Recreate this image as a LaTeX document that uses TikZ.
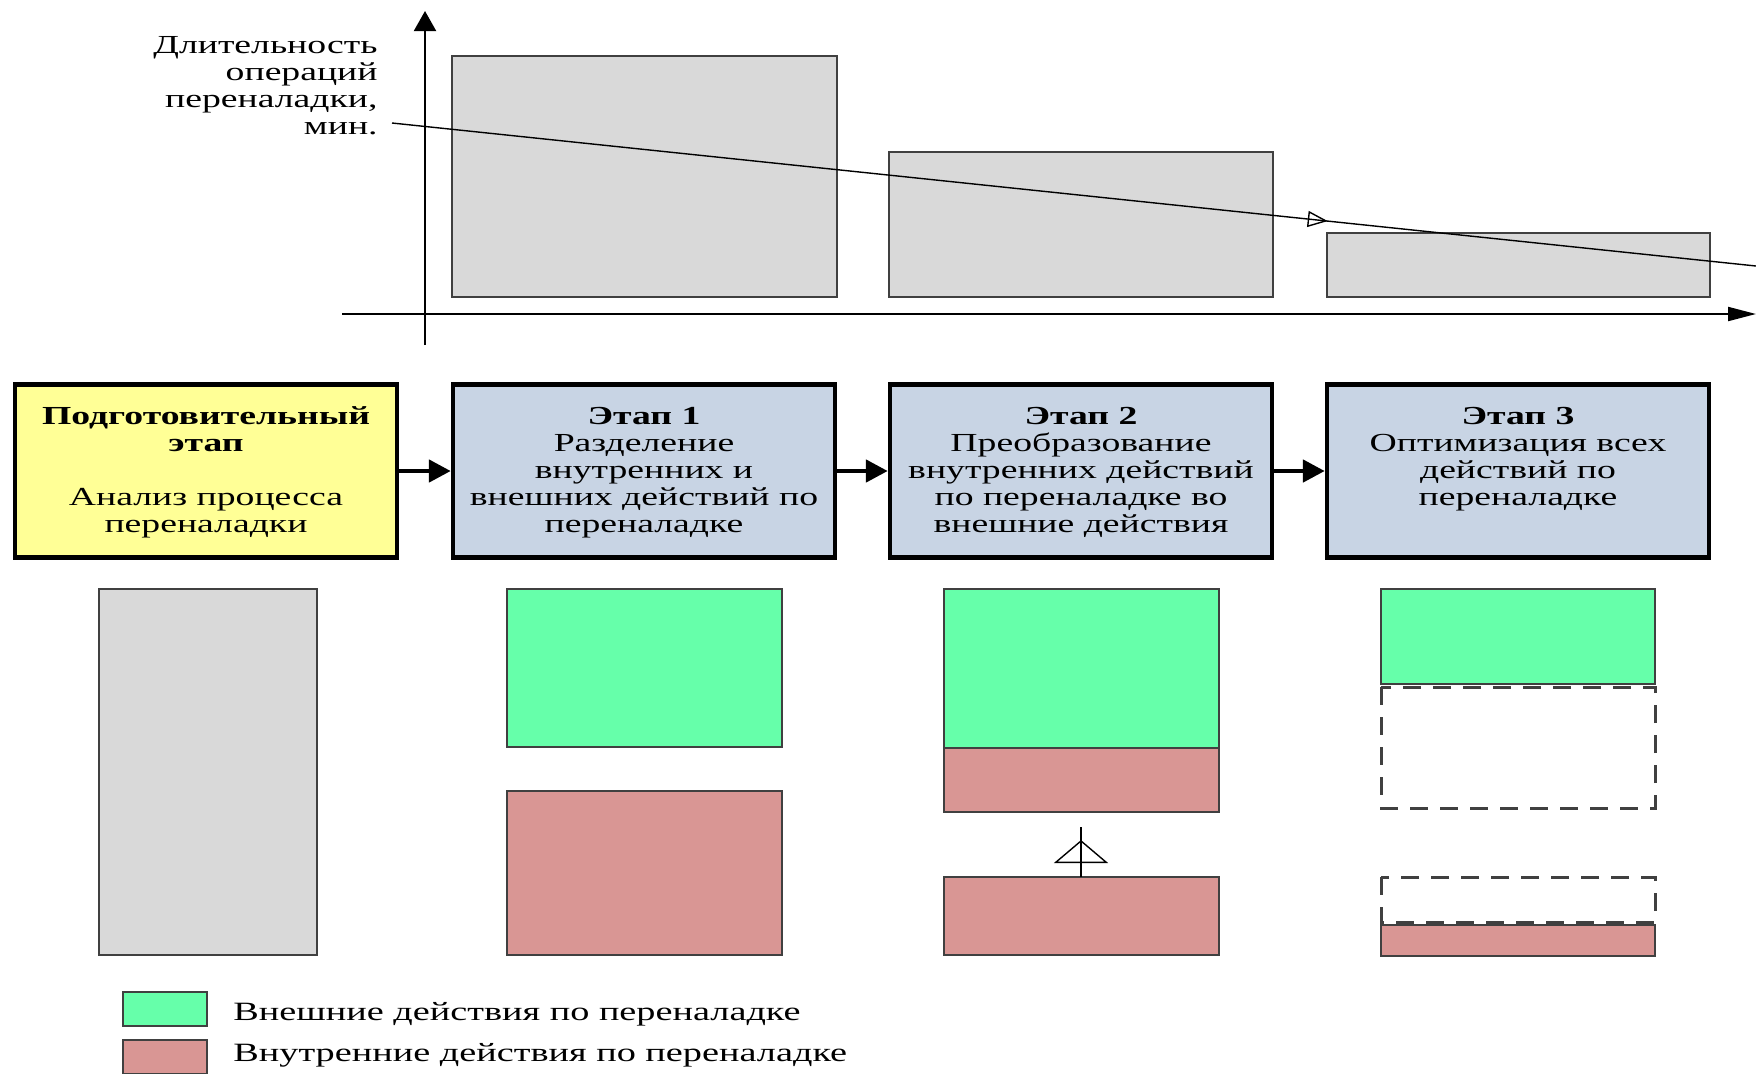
\documentclass[tikz,border=0pt]{standalone}
\usepackage{fontspec}
\setmainfont[FakeStretch=1.45]{Liberation Serif}
\usetikzlibrary{arrows.meta,positioning,decorations.markings}
\definecolor{bargray}{RGB}{217,217,217}
\definecolor{edgegray}{RGB}{64,64,64}
\definecolor{stageblue}{RGB}{200,212,228}
\definecolor{prepyellow}{RGB}{255,255,150}
\definecolor{extgreen}{RGB}{102,255,170}
\definecolor{intpink}{RGB}{217,150,148}
\tikzset{->-/.style={decoration={
  markings,
  mark=at position #1 with {\arrow{>}}},postaction={decorate}}}
\tikzset{axis/.style={line width=1pt,draw=black}}
\tikzset{bar/.style={draw=edgegray,fill=bargray,line width=0.9pt}}
\tikzset{block/.style={draw=edgegray,line width=0.7pt}}
\tikzset{gone/.style={draw=edgegray,line width=1.5pt,dash pattern=on 9pt off 6pt}}
\tikzset{stage/.style={rectangle,draw=black,line width=2.2pt,minimum width=191pt,minimum height=86.5pt,inner sep=0pt,font=\stagefont}}
\tikzset{flow/.style={line width=2.4pt,-{Triangle[length=11pt,width=11pt]}}}
\tikzset{swatch/.style={rectangle,draw=edgegray,line width=1pt,minimum width=42pt,minimum height=17pt,inner sep=0pt}}
\tikzset{legend/.style={inner sep=0pt,font=\legendfont}}
\newcommand{\stagefont}{\fontsize{13}{13.5}\selectfont}
\newcommand{\legendfont}{\fontsize{13.2}{14}\selectfont}
\newcommand{\stagetxt}[1]{\parbox[c][64pt][t]{190pt}{\centering #1}}

\begin{document}
\begin{tikzpicture}[x=0.5pt,y=-0.5pt]
\useasboundingbox (0,0) rectangle (1756,1073);
% chart
\coordinate (ybot) at (425,345);
\coordinate (ytop) at (425,11);
\coordinate (xleft) at (342,314);
\coordinate (xright) at (1756,314);
\draw[bar] (452,56) rectangle (837,297);
\draw[bar] (889,152) rectangle (1273,297);
\draw[bar] (1327,233) rectangle (1710,297);
\draw[axis,-{Triangle[length=10pt,width=11pt]}] (ybot)--(ytop);
\draw[axis,-{Triangle[length=14pt,width=7pt]}] (xleft)--(xright);
\node (ylabel) at (378,36) [anchor=north east,align=right,inner sep=0pt,font=\stagefont]
  {Длительность\\операций\\переналадки,\\мин.};
\coordinate (trendA) at (392,123);
\coordinate (trendB) at (1756,266);
\draw[line width=0.7pt,>={Triangle[open,length=10pt,width=8pt]},->-=0.686] (trendA)--(trendB);
% stages
\node (prep) at (206,471) [stage,fill=prepyellow]
  {\stagetxt{\textbf{Подготовительный}\\\textbf{этап}\\[13.5pt]Анализ процесса\\переналадки}};
\node (st1) at (644,471) [stage,fill=stageblue]
  {\stagetxt{\textbf{Этап 1}\\Разделение\\внутренних и\\внешних действий по\\переналадке}};
\node (st2) at (1081,471) [stage,fill=stageblue]
  {\stagetxt{\textbf{Этап 2}\\Преобразование\\внутренних действий\\по переналадке во\\внешние действия}};
\node (st3) at (1518,471) [stage,fill=stageblue]
  {\stagetxt{\textbf{Этап 3}\\Оптимизация всех\\действий по\\переналадке}};
\draw[flow] (prep)--(st1);
\draw[flow] (st1)--(st2);
\draw[flow] (st2)--(st3);
% setup actions
\draw[block,fill=bargray] (99,589) rectangle (317,955);
\draw[block,fill=extgreen] (507,589) rectangle (782,747);
\draw[block,fill=intpink] (507,791) rectangle (782,955);
\draw[block,fill=extgreen] (944,589) rectangle (1219,748);
\draw[block,fill=intpink] (944,748) rectangle (1219,812);
\draw[block,fill=intpink] (944,877) rectangle (1219,955);
\coordinate (upA) at (1081,877);
\coordinate (upB) at (1081,827);
\draw[line width=0.7pt,>={Triangle[open,length=11.5pt,width=27pt]},->-=0.74] (upA)--(upB);
\draw[block,fill=extgreen] (1381,589) rectangle (1655,684);
\draw[gone] (1381,687) rectangle (1655,808);
\draw[gone] (1381,877) rectangle (1655,922);
\draw[block,fill=intpink] (1381,925) rectangle (1655,956);
% legend
\node (lgext) at (165,1009) [swatch,fill=extgreen] {};
\node (lgint) at (165,1057) [swatch,fill=intpink] {};
\node (txext) [legend,right=12.5pt of lgext,yshift=-2.5pt] {Внешние действия по переналадке};
\node (txint) [legend,right=12.5pt of lgint,yshift=1pt] {Внутренние действия по переналадке};
\end{tikzpicture}
\end{document}
